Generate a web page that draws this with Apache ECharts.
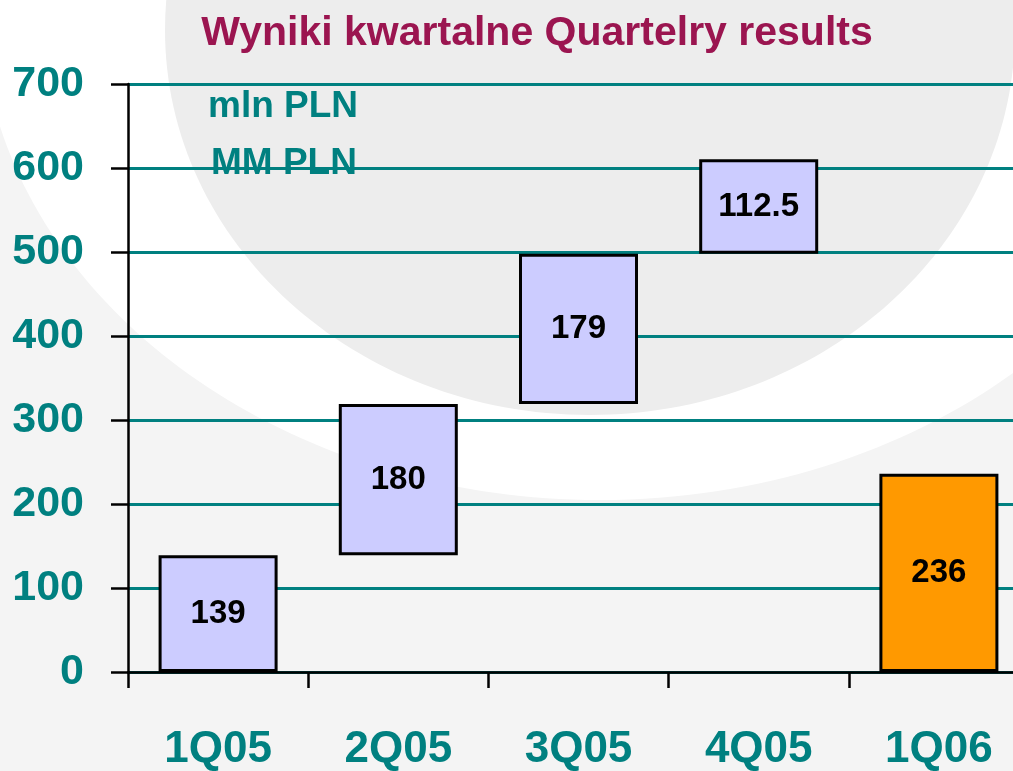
<!DOCTYPE html>
<html>
<head>
<meta charset="utf-8">
<script src="https://cdn.jsdelivr.net/npm/echarts@6/dist/echarts.min.js"></script>
<style>html,body{margin:0;padding:0;background:#f4f4f4;}#c{width:1013px;height:771px;}</style>
</head>
<body>
<div id="c"></div>
<script>
const categories = ['1Q05', '2Q05', '3Q05', '4Q05', '1Q06'];
const baseValues = [0, 139, 319, 498, 0];
const deltaValues = [139, 180, 179, 112.5, 236];
const barColors = ['#CCCCFF', '#CCCCFF', '#CCCCFF', '#CCCCFF', '#FF9900'];
const yTicks = [0, 100, 200, 300, 400, 500, 600, 700];

const FONT = '"Liberation Sans", Arial, sans-serif';
const TEAL = '#008080';

const chart = echarts.init(document.getElementById('c'), null, {renderer: 'canvas'});
chart.setOption({
  backgroundColor: '#f4f4f4',
  animation: false,
  graphic: [
    {type: 'ellipse', z: -10, silent: true, shape: {cx: 600, cy: 0, rx: 620, ry: 500}, style: {fill: '#ffffff'}},
    {type: 'ellipse', z: -9, silent: true, shape: {cx: 590, cy: 30, rx: 425, ry: 385}, style: {fill: '#ededed'}},
    {type: 'text', left: 208, top: 88, z: 10, style: {text: 'mln PLN', fill: TEAL, font: 'bold 37px ' + FONT}},
    {type: 'text', left: 211, top: 145, z: 10, style: {text: 'MM PLN', fill: TEAL, font: 'bold 37px ' + FONT}}
  ],
  title: {
    text: 'Wyniki kwartalne Quartelry results',
    left: 532, top: 8, textAlign: 'center',
    textStyle: {color: '#9B1550', fontSize: 41, fontWeight: 'bold', fontFamily: FONT}
  },
  grid: {left: 128, top: 84, width: 901, height: 588, containLabel: false, outerBoundsMode: 'none'},
  xAxis: {
    type: 'category',
    data: categories,
    boundaryGap: true,
    axisLine: {lineStyle: {color: '#000', width: 2.5}},
    axisTick: {show: true, length: 16, lineStyle: {color: '#000', width: 2.5}},
    axisLabel: {color: TEAL, fontSize: 44, fontWeight: 'bold', fontFamily: FONT, margin: 56, interval: 0}
  },
  yAxis: {
    type: 'value',
    min: 0, max: 700, interval: 100,
    axisLine: {show: true, lineStyle: {color: '#000', width: 2.5}},
    axisTick: {show: true, length: 17, lineStyle: {color: '#000', width: 2.5}},
    axisLabel: {color: TEAL, fontSize: 43, fontWeight: 'bold', fontFamily: FONT, margin: 44,
      formatter: v => yTicks.includes(v) ? String(v) : ''},
    splitLine: {show: true, lineStyle: {color: TEAL, width: 3}}
  },
  series: [
    {
      type: 'bar', stack: 'w', barWidth: 119,
      data: baseValues,
      itemStyle: {color: 'transparent', borderWidth: 0},
      silent: true
    },
    {
      type: 'bar', stack: 'w', barWidth: 119,
      data: deltaValues.map((v, i) => ({value: v, itemStyle: {color: barColors[i]}})),
      itemStyle: {borderColor: '#000', borderWidth: 3},
      label: {show: true, position: 'inside', color: '#000', fontSize: 33, fontWeight: 'bold', fontFamily: FONT,
        formatter: p => String(p.value)}
    }
  ]
});
</script>
</body>
</html>
